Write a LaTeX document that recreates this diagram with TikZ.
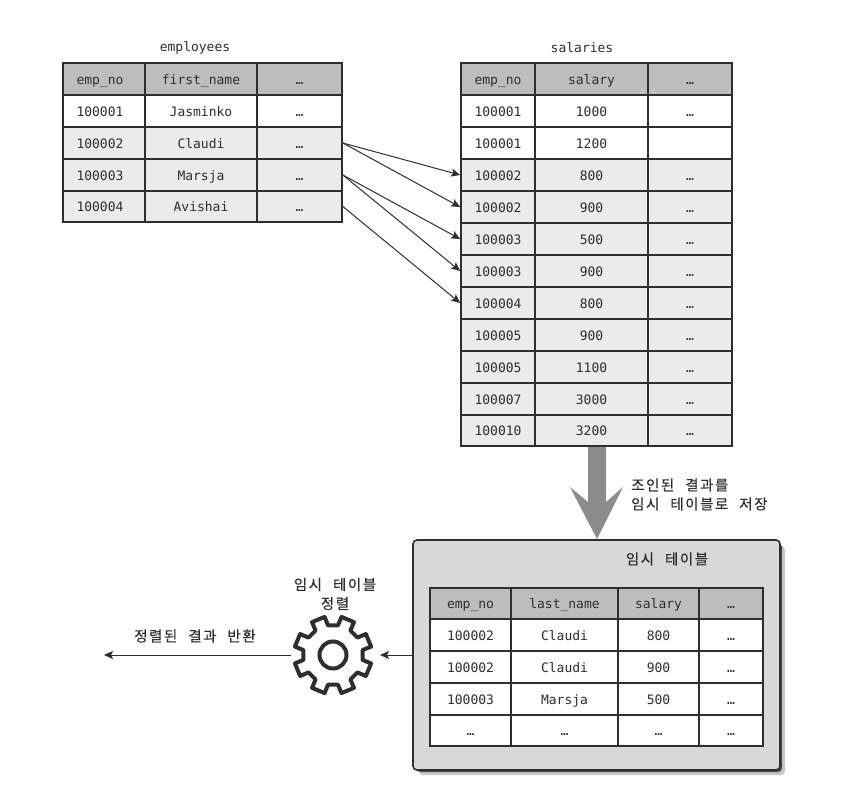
\documentclass[tikz,border=0pt]{standalone}
\usepackage{fontspec}
\setmonofont{DejaVu Sans Mono}
\newfontfamily\krfont[LetterSpace=10.5,WordSpace=2.3,FakeBold=0.3]{Noto Sans CJK KR}
\usetikzlibrary{arrows.meta}
\definecolor{ink}{HTML}{2E2E2E}
\definecolor{hdr}{HTML}{BDBDBD}
\definecolor{alt}{HTML}{EBEBEB}
\definecolor{panel}{HTML}{D8D8D8}
\definecolor{bigarrow}{HTML}{8C8C8C}
\tikzset{
  cell/.style={draw=ink,line width=1.7pt,inner sep=0pt,text=ink,text height=11pt,text depth=1pt,font=\ttfamily\fontsize{13}{15}\selectfont},
  hcell/.style={cell,fill=hdr},
  wcell/.style={cell,fill=white},
  acell/.style={cell,fill=alt},
  title/.style={inner sep=0pt,text=ink,font=\ttfamily\fontsize{13}{15}\selectfont},
  kr/.style={inner sep=0pt,text=ink,align=center,font=\krfont\fontsize{14.5}{19}\selectfont},
  link/.style={draw=ink,line width=1pt,-{Stealth[length=9pt,width=8pt,inset=2pt]}},
}
\newcommand{\lft}{\kern-8pt}
% name, x0, y0, x1, y1, style, text
\newcommand{\tcell}[7]{%
  \pgfmathsetmacro{\cw}{#4-#2}\pgfmathsetmacro{\ch}{#5-#3}%
  \pgfmathsetmacro{\cx}{(#4+#2)/2}\pgfmathsetmacro{\cy}{(#5+#3)/2}%
  \node[#6,minimum width=\cw pt,minimum height=\ch pt] (#1) at (\cx,\cy) {#7};%
}
\newcommand{\trow}[9]{%
  \def\pfx{#1}\def\ya{#2}\def\yb{#3}\def\sty{#4}\def\xa{#5}\def\xb{#6}\def\xc{#7}\def\xd{#8}\def\ta{#9}\trowb}
\newcommand{\trowb}[2]{%
  \tcell{\pfx a}{\xa}{\ya}{\xb}{\yb}{\sty}{\ta}%
  \tcell{\pfx b}{\xb}{\ya}{\xc}{\yb}{\sty}{#1}%
  \tcell{\pfx c}{\xc}{\ya}{\xd}{\yb}{\sty}{#2}%
}
\newcommand{\frow}[8]{%
  \tcell{#1a}{430}{#2}{511}{#3}{#4}{#5}%
  \tcell{#1b}{511}{#2}{618}{#3}{#4}{#6}%
  \tcell{#1c}{618}{#2}{699}{#3}{#4}{#7}%
  \tcell{#1d}{699}{#2}{763}{#3}{#4}{#8}}
\begin{document}
\begin{tikzpicture}[x=1pt,y=-1pt]
\useasboundingbox (0,0) rectangle (852,795);
% titles
\node[title] (t1) at (195,48) {employees};
\node[title] (t2) at (582,48) {salaries};
% employees
\trow{ea}{63}{95}{hcell}{63}{145}{257}{342}{\lft emp\_no}{first\_name}{…}
\trow{eb}{95}{127}{wcell}{63}{145}{257}{342}{\lft 100001}{Jasminko}{…}
\trow{ec}{127}{159}{acell}{63}{145}{257}{342}{\lft 100002}{Claudi}{…}
\trow{ed}{159}{191}{acell}{63}{145}{257}{342}{\lft 100003}{Marsja}{…}
\trow{ee}{191}{222}{acell}{63}{145}{257}{342}{\lft 100004}{Avishai}{…}
% salaries
\trow{sa}{63}{95}{hcell}{461}{535}{648}{732}{emp\_no}{salary}{…}
\trow{sb}{95}{127}{wcell}{461}{535}{648}{732}{100001}{1000}{…}
\trow{sc}{127}{159}{wcell}{461}{535}{648}{732}{100001}{1200}{}
\trow{sd}{159}{191}{acell}{461}{535}{648}{732}{100002}{800}{…}
\trow{se}{191}{223}{acell}{461}{535}{648}{732}{100002}{900}{…}
\trow{sf}{223}{255}{acell}{461}{535}{648}{732}{100003}{500}{…}
\trow{sg}{255}{287}{acell}{461}{535}{648}{732}{100003}{900}{…}
\trow{sh}{287}{319}{acell}{461}{535}{648}{732}{100004}{800}{…}
\trow{si}{319}{351}{acell}{461}{535}{648}{732}{100005}{900}{…}
\trow{sj}{351}{383}{acell}{461}{535}{648}{732}{100005}{1100}{…}
\trow{sk}{383}{415}{acell}{461}{535}{648}{732}{100007}{3000}{…}
\trow{sl}{415}{446}{acell}{461}{535}{648}{732}{100010}{3200}{…}
% join arrows
\draw[link] (ecc.east) -- (sda.west);
\draw[link] (ecc.east) -- (sea.west);
\draw[link] (edc.east) -- (sfa.west);
\draw[link] (edc.east) -- (sga.west);
\draw[link] (eec.east) -- (sha.west);
% temp panel
\fill[black!22,rounded corners=4pt] (419,546) rectangle (785,775);
\fill[black!70,rounded corners=4pt] (416,543) rectangle (782,772);
\node[draw=ink,line width=1.6pt,fill=panel,rounded corners=4pt,minimum width=367pt,minimum height=230pt,inner sep=0pt] (temp) at (596.5,655) {};
% big arrow
\coordinate (bigs) at (597,447);
\fill[bigarrow] (bigs) ++(-9,0) -- ++(18,0) -- ++(0,55) -- ++(17,-15) -- (597,539) -- (570,487) -- (588,502) -- cycle;
\node[kr,anchor=west,align=left] (lab1) at (631,494.5) {조인된 결과를\\임시 테이블로 저장};
\node[kr] (lab2) at (667,559) {임시 테이블};
% temp table
\frow{ta}{588}{619}{hcell}{emp\_no}{last\_name}{salary}{…}
\frow{tb}{619}{651}{wcell}{100002}{Claudi}{800}{…}
\frow{tc}{651}{683}{wcell}{100002}{Claudi}{900}{…}
\frow{td}{683}{715}{wcell}{100003}{Marsja}{500}{…}
\frow{te}{715}{746}{wcell}{…}{…}{…}{…}
% gear
\coordinate (gear) at (333,655);
\def\ro{39}\def\ri{30}
\begin{scope}[shift={(gear)}]
\draw[ink,line width=4pt,line join=round] (9.5:\ri)
  \foreach \k in {0,...,7}{
    -- ({22.5+45*\k-13}:\ri) -- ({22.5+45*\k-10}:\ro) -- ({22.5+45*\k+10}:\ro) -- ({22.5+45*\k+13}:\ri)
  } -- cycle;
\draw[ink,line width=4pt] (0,0) circle[radius=13.5];
\end{scope}
\coordinate (gl) at (291,655);
\coordinate (gr) at (380,655);
\coordinate (out) at (104,655);
\draw[link] (temp.west) -- (gr);
\draw[link] (gl) -- (out);
\node[kr] (lab3) at (335,594) {임시 테이블\\정렬};
\node[kr] (lab4) at (195,636) {정렬된 결과 반환};
\end{tikzpicture}
\end{document}
